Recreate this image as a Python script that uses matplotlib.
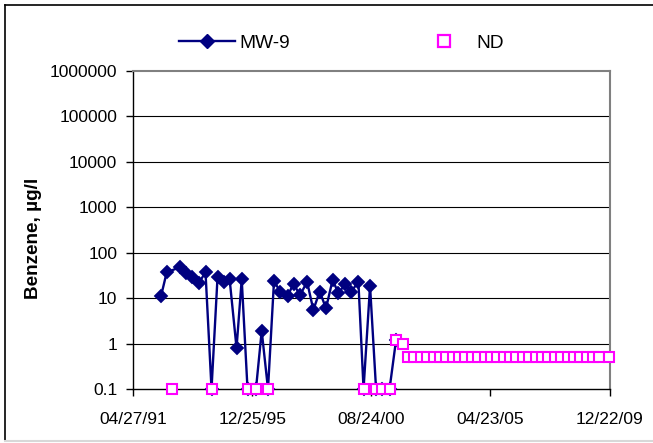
import numpy as np
import matplotlib
matplotlib.use("Agg")
import matplotlib.pyplot as plt
import matplotlib.dates as mdates
from matplotlib.lines import Line2D

plt.rcParams['font.family'] = ['Liberation Sans', 'DejaVu Sans']

# ---- data ----
mw9_dates = ["1992-05-27", "1992-08-17", "1993-02-23", "1993-05-20", "1993-08-14",
             "1993-11-22", "1994-02-23", "1994-05-20", "1994-08-14", "1994-11-15",
             "1995-02-02", "1995-05-13", "1995-07-26", "1995-10-17", "1996-02-15",
             "1996-05-07", "1996-08-05", "1996-10-30", "1997-01-24", "1997-05-12",
             "1997-08-05", "1997-11-06", "1998-02-15", "1998-05-16", "1998-08-14",
             "1998-11-13", "1999-02-15", "1999-05-09", "1999-08-13", "1999-11-11",
             "2000-02-19", "2000-05-03", "2000-08-04", "2000-10-29", "2001-01-23",
             "2001-05-10", "2001-08-11"]
mw9_values = [11, 37, 48, 36, 29,
              22, 37, 0.1, 29, 23,
              27, 0.8, 26, 0.1, 0.1,
              1.9, 0.1, 24, 14, 11,
              21, 11.5, 23, 5.5, 14,
              6, 25, 13, 20, 14,
              23, 0.1, 18.5, 0.1, 0.1,
              0.1, 1.2]

nd_dates = ["1992-11-05", "1994-05-20", "1995-10-17", "1996-02-15", "1996-08-05",
            "2000-05-03", "2000-10-29", "2001-01-23", "2001-05-10", "2001-08-11",
            "2001-11-15",
            "2002-01-30", "2002-04-30", "2002-07-30", "2002-10-30",
            "2003-01-30", "2003-04-30", "2003-07-30", "2003-10-30",
            "2004-01-30", "2004-04-30", "2004-07-30", "2004-10-30",
            "2005-01-30", "2005-04-30", "2005-07-30", "2005-10-30",
            "2006-01-30", "2006-04-30", "2006-07-30", "2006-10-30",
            "2007-01-30", "2007-04-30", "2007-07-30", "2007-10-30",
            "2008-01-30", "2008-04-30", "2008-07-30", "2008-10-30",
            "2009-01-30", "2009-04-30", "2009-07-30", "2009-12-15"]
nd_values = [0.1, 0.1, 0.1, 0.1, 0.1,
             0.1, 0.1, 0.1, 0.1, 1.2,
             1.0,
             0.5, 0.5, 0.5, 0.5,
             0.5, 0.5, 0.5, 0.5,
             0.5, 0.5, 0.5, 0.5,
             0.5, 0.5, 0.5, 0.5,
             0.5, 0.5, 0.5, 0.5,
             0.5, 0.5, 0.5, 0.5,
             0.5, 0.5, 0.5, 0.5,
             0.5, 0.5, 0.5, 0.5]

x_ticks = ["1991-04-27", "1995-12-25", "2000-08-24", "2005-04-23", "2009-12-22"]
y_ticks = [0.1, 1, 10, 100, 1000, 10000, 100000, 1000000]
y_ticklabels = ["0.1", "1", "10", "100", "1000", "10000", "100000", "1000000"]

mw9_x = np.array(mw9_dates, dtype="datetime64[D]")
nd_x = np.array(nd_dates, dtype="datetime64[D]")
xt = np.array(x_ticks, dtype="datetime64[D]")

W, H = 653, 443
fig = plt.figure(figsize=(W / 100, H / 100), dpi=100)
L, R, T, B = 133.3, 609.6, 71, 389
ax = fig.add_axes([L / W, 1 - B / H, (R - L) / W, (B - T) / H])

navy = "#000080"
mag = "#FF00FF"

ax.plot(mw9_x, mw9_values, color=navy, lw=1.7, marker="D", ms=7.2,
        mfc=navy, mec=navy, mew=0.3, zorder=3, clip_on=False)
ax.plot(nd_x, nd_values, ls="none", marker="s", ms=7.9, mfc="white",
        mec=mag, mew=1.5, zorder=4, clip_on=False)

ax.set_yscale("log")
ax.set_ylim(0.1, 1000000)
ax.set_xlim(xt[0], xt[-1])
ax.set_yticks(y_ticks)
ax.set_yticklabels(y_ticklabels)
ax.yaxis.set_minor_locator(matplotlib.ticker.NullLocator())
ax.set_xticks(xt)
ax.xaxis.set_major_formatter(mdates.DateFormatter("%m/%d/%y"))

for v in y_ticks[1:-1]:
    ax.axhline(v, color="black", lw=0.8, zorder=1)

for s in ["left", "bottom"]:
    ax.spines[s].set_color("black")
    ax.spines[s].set_linewidth(1.0)
for s in ["top", "right"]:
    ax.spines[s].set_color("#808080")
    ax.spines[s].set_linewidth(1.5)

ax.tick_params(axis="y", direction="out", length=5, width=1, pad=6.5,
               labelsize=12.5, colors="black")
ax.tick_params(axis="x", direction="out", length=5, width=1, pad=11.5,
               labelsize=12.5, colors="black")

fig.text(34 / W, 1 - 238.5 / H, "Benzene, µg/l", rotation=90, ha="center",
         va="center", fontsize=13.6, fontweight="bold")

h1 = Line2D([], [], color=navy, lw=1.7, marker="D", ms=7.4, mfc=navy, mec=navy)
h2 = Line2D([], [], ls="none", marker="s", ms=8.2, mfc="white", mec=mag, mew=1.6)
fig.legend([h1, h2], ["MW-9", "ND"], loc="center left",
           bbox_to_anchor=(179 / W, 1 - 43 / H), ncol=2, frameon=False,
           fontsize=13.8, handlelength=2.9, handletextpad=0.25,
           columnspacing=6.6, borderpad=0, borderaxespad=0)

# outer chart border
fig.add_artist(Line2D([5 / W, 5 / W], [1 - 5 / H, 1 - 440 / H], color="black", lw=1.2))
fig.add_artist(Line2D([5 / W, 1.0], [1 - 5 / H, 1 - 5 / H], color="black", lw=1.2))
fig.add_artist(Line2D([5 / W, 1.0], [1 - 441 / H, 1 - 441 / H], color="#d8d8d8", lw=1.5))

fig.savefig("out.png", dpi=100)
